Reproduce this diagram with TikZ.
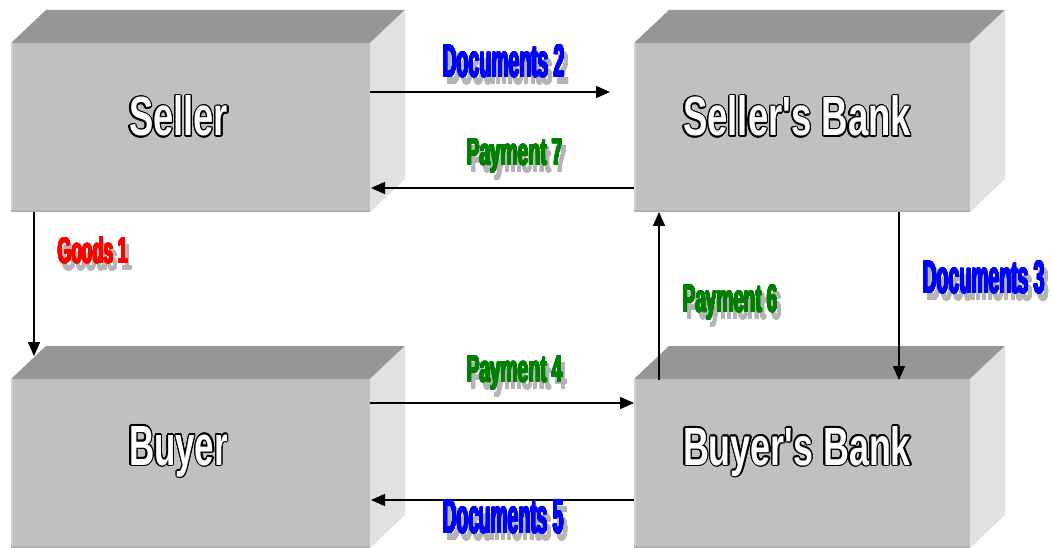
\documentclass[tikz,border=0pt]{standalone}
\usepackage{fontspec}
\setmainfont{Liberation Sans}[Ligatures=TeXOff]
\usepackage[copies]{contour}
\usetikzlibrary{arrows.meta}
\definecolor{topgray}{RGB}{150,150,150}
\definecolor{frontgray}{RGB}{192,192,192}
\definecolor{sidegray}{RGB}{225,225,225}
\definecolor{edgelight}{RGB}{208,208,208}
\definecolor{edgedark}{RGB}{176,176,176}
\definecolor{shadowgray}{RGB}{180,180,180}
\definecolor{docblue}{RGB}{0,0,255}
\definecolor{paygreen}{RGB}{0,128,0}
\definecolor{goodsred}{RGB}{255,0,0}
\newcommand\fatlbl[4]{{\contourlength{0.55pt}\textcolor{#1}{\contour{#1}{\resizebox{#2}{#3}{\bfseries #4}}}}}
\newcommand\boxlbl[3]{{\contourlength{1.3pt}\textcolor{white}{\contour{black}{\resizebox{#1}{#2}{\bfseries #3}}}}}
\newcommand\cubebox[5]{%
  \fill[topgray] (#1,#2) -- (#1+35,#2-33) -- (#3+35,#2-33) -- (#3,#2) -- cycle;
  \fill[sidegray] (#3,#2) -- (#3+35,#2-33) -- (#3+35,#4-33) -- (#3,#4) -- cycle;
  \node[frontface, minimum width={(#3-#1)*1pt}, minimum height={(#4-#2)*1pt}] (#5) at ({(#1+#3)/2},{(#2+#4)/2}) {};
  \draw[edgelight, line width=2pt] (#1+1,#2) -- (#1+1,#4);
  \draw[edgedark, line width=2pt] (#1,#4-1) -- (#3,#4-1);
}
\begin{document}
\begin{tikzpicture}[x=1pt,y=-1pt,
  frontface/.style={fill=frontgray, draw=none, inner sep=0pt},
  flow/.style={line width=1.6pt, -{Triangle[length=14pt,width=12pt]}},
  lbl/.style={anchor=base west, inner sep=0pt, outer sep=0pt}]
\useasboundingbox (0,0) rectangle (1052,548);
\fill[white] (0,0) rectangle (1052,548);
% boxes
\cubebox{11}{43}{370}{212}{seller}
\cubebox{634}{43}{970}{212}{sbank}
\cubebox{11}{379}{370}{548}{buyer}
\cubebox{634}{379}{970}{548}{bbank}
% box labels
\node[lbl] (sellerlbl) at (129,136) {\boxlbl{99pt}{40pt}{Seller}};
\node[lbl] (sbanklbl) at (683,136) {\boxlbl{228pt}{40pt}{Seller's Bank}};
\node[lbl] (buyerlbl) at (129,465) {\boxlbl{99pt}{39pt}{Buyer}};
\node[lbl] (bbanklbl) at (683,465) {\boxlbl{228pt}{39pt}{Buyer's Bank}};
% connector end points
\coordinate (d2a) at (370,92);  \coordinate (d2b) at (610,92);
\coordinate (p7a) at (634,188); \coordinate (p7b) at (371,188);
\coordinate (g1a) at (34,212);  \coordinate (g1b) at (34,356);
\coordinate (p6a) at (659,380); \coordinate (p6b) at (659,212);
\coordinate (d3a) at (899,212); \coordinate (d3b) at (899,380);
\coordinate (p4a) at (370,403); \coordinate (p4b) at (634,403);
\coordinate (d5a) at (634,500); \coordinate (d5b) at (371,500);
\draw[flow] (d2a) -- (d2b);
\draw[flow] (p7a) -- (p7b);
\draw[flow] (g1a) -- (g1b);
\draw[flow] (p6a) -- (p6b);
\draw[flow] (d3a) -- (d3b);
\draw[flow] (p4a) -- (p4b);
\draw[flow] (d5a) -- (d5b);
% label shadows
\node[lbl] (d2s) at (447,84)  {\fatlbl{shadowgray}{122pt}{32pt}{Documents 2}};
\node[lbl] (p7s) at (471,172) {\fatlbl{shadowgray}{96pt}{26pt}{Payment 7}};
\node[lbl] (g1s) at (62,270)  {\fatlbl{shadowgray}{70pt}{26pt}{Goods 1}};
\node[lbl] (p6s) at (687,319) {\fatlbl{shadowgray}{95pt}{27pt}{Payment 6}};
\node[lbl] (d3s) at (927,300) {\fatlbl{shadowgray}{122pt}{32pt}{Documents 3}};
\node[lbl] (p4s) at (471,389) {\fatlbl{shadowgray}{96pt}{26pt}{Payment 4}};
\node[lbl] (d5s) at (447,540) {\fatlbl{shadowgray}{121pt}{33pt}{Documents 5}};
% labels
\node[lbl] (d2) at (443,77)  {\fatlbl{docblue}{122pt}{32pt}{Documents 2}};
\node[lbl] (p7) at (467,165) {\fatlbl{paygreen}{96pt}{26pt}{Payment 7}};
\node[lbl] (g1) at (58,263)  {\fatlbl{goodsred}{70pt}{26pt}{Goods 1}};
\node[lbl] (p6) at (683,312) {\fatlbl{paygreen}{95pt}{27pt}{Payment 6}};
\node[lbl] (d3) at (923,293) {\fatlbl{docblue}{122pt}{32pt}{Documents 3}};
\node[lbl] (p4) at (467,382) {\fatlbl{paygreen}{96pt}{26pt}{Payment 4}};
\node[lbl] (d5) at (443,533) {\fatlbl{docblue}{121pt}{33pt}{Documents 5}};
\end{tikzpicture}
\end{document}
